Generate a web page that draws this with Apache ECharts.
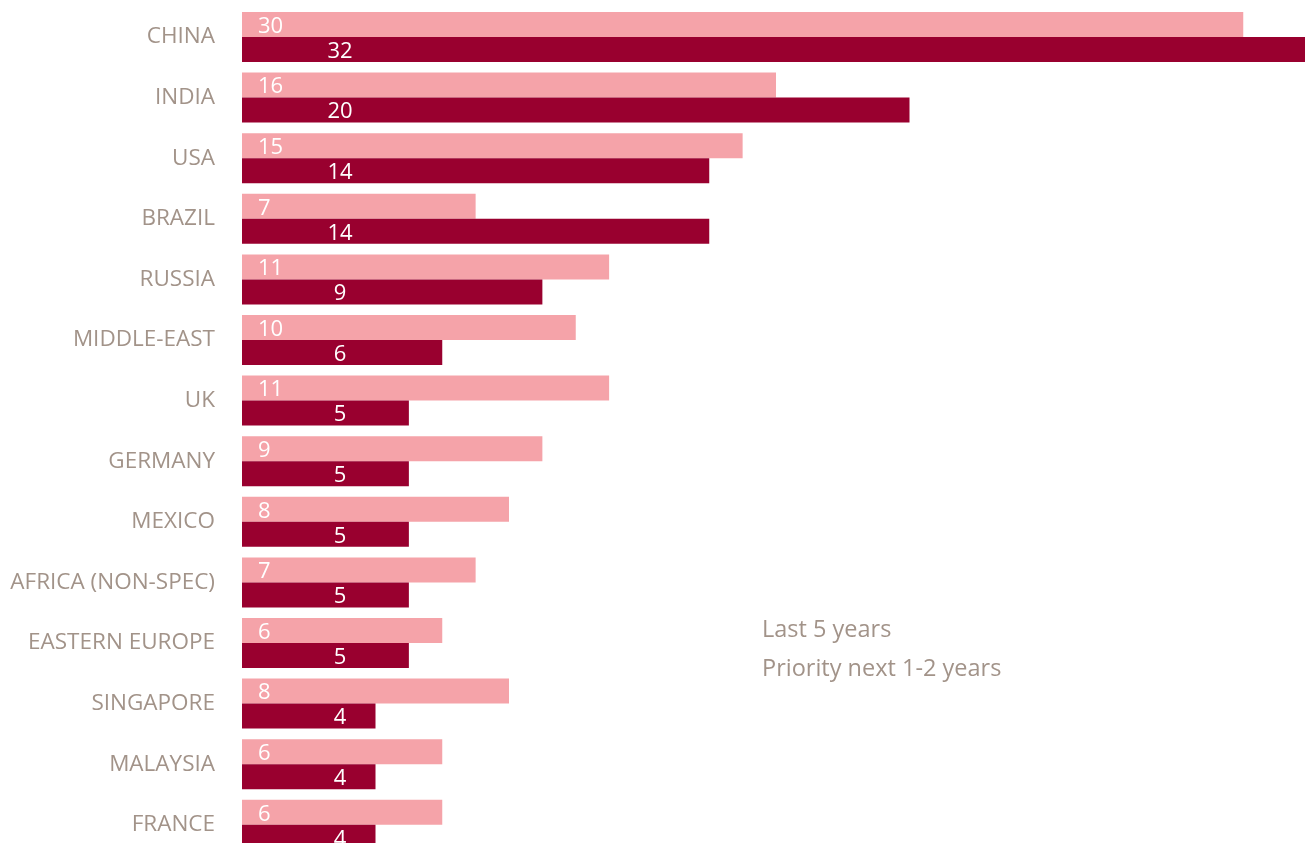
<!DOCTYPE html>
<html><head><meta charset="utf-8">
<script src="https://cdn.jsdelivr.net/npm/echarts@6/dist/echarts.min.js"></script>
<style>html,body{margin:0;padding:0;background:#fff;overflow:hidden}#c{width:1305px;height:860px}</style>
</head><body><div id="c"></div>
<script>
const categories = ['CHINA','INDIA','USA','BRAZIL','RUSSIA','MIDDLE-EAST','UK','GERMANY','MEXICO','AFRICA (NON-SPEC)','EASTERN EUROPE','SINGAPORE','MALAYSIA','FRANCE'];
const last5 = [30,16,15,7,11,10,11,9,8,7,6,8,6,6];
const priority = [32,20,14,14,9,6,5,5,5,5,5,4,4,4];
const seriesNames = ['Last 5 years','Priority next 1-2 years'];
const font = '"Open Sans", "Noto Sans", sans-serif';
const txt = '#a29389';
const chart = echarts.init(document.getElementById('c'));
chart.setOption({
  animation:false,
  legend:{ left:752, top:613, orient:'vertical', itemGap:15, icon:'none', itemWidth:0, itemHeight:0,
    data:seriesNames, textStyle:{ color:txt, fontFamily:font, fontSize:23.5 }, selectedMode:false },
  grid:{ left:242, right:0, top:6.7, bottom:4.9, containLabel:false },
  xAxis:{ type:'value', min:0, max:31.85, show:false },
  yAxis:{ type:'category', data:categories, inverse:true,
    axisLine:{show:false}, axisTick:{show:false},
    axisLabel:{ color:txt, fontFamily:font, fontSize:22.5, margin:27, padding:[4,0,0,0] } },
  series:[
    { name:seriesNames[0], type:'bar', data:last5, barWidth:25, barGap:'0%',
      itemStyle:{ color:'#f5a3a9' },
      label:{ show:true, position:[16,14.5], align:'left', verticalAlign:'middle', color:'#fff', fontFamily:font, fontSize:22 } },
    { name:seriesNames[1], type:'bar', data:priority, barWidth:25, barGap:'0%',
      itemStyle:{ color:'#99002f' },
      label:{ show:true, position:[98,14.5], align:'center', verticalAlign:'middle', color:'#fff', fontFamily:font, fontSize:22 } }
  ]
});
</script></body></html>
